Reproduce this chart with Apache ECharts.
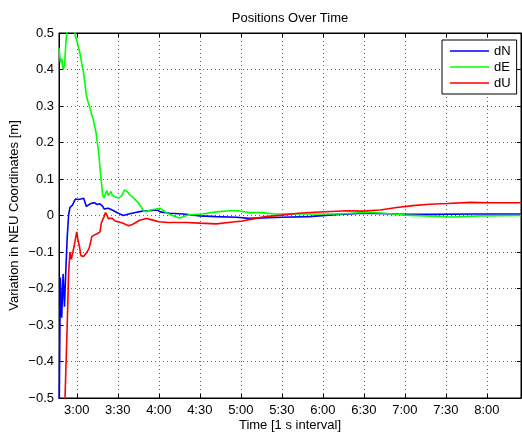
<!DOCTYPE html>
<html>
<head>
<meta charset="utf-8">
<script src="https://cdn.jsdelivr.net/npm/echarts@6/dist/echarts.min.js"></script>
<style>html,body{margin:0;padding:0;background:#fff}#c{width:522px;height:433px}</style>
</head>
<body>
<div id="c"></div>
<script>
// Time in seconds, values in metres
const dN_t = [167,168,169,170,171,172,173,174,175,176,177,178,179,181,183,185,186,187,189,191,193,195,197,199,200,203,206,210,214,218,223,228,233,239,241,248,258,270,282,297,306,330,350,372,390,415,440,470,505];
const dN_v = [-0.6,-0.17,-0.28,-0.16,-0.25,-0.15,-0.06,0.0,0.022,0.025,0.029,0.038,0.045,0.044,0.045,0.047,0.036,0.025,0.03,0.034,0.035,0.03,0.032,0.025,0.018,0.02,0.015,0.007,0.0,0.004,0.008,0.012,0.013,0.015,0.01,0.006,0.004,-0.001,-0.003,-0.005,-0.008,-0.005,-0.003,0.003,0.006,0.004,0.003,0.004,0.004];

const dE_t = [167,168,169,170,171,172,173,175,178,179,180,182,184,185,186,187,188,189,190,191,192,193,194,195,196,197,198,199,200,201,202,203,204,205,206,207,209,211,213,215,217,219,221,223,225,227,229,231,234,238,241,244,246,250,255,262,272,282,292,298,306,315,325,345,372,392,405,420,435,455,475,505];
const dE_v = [0.46,0.42,0.43,0.40,0.41,0.47,0.52,0.55,0.52,0.49,0.48,0.45,0.41,0.39,0.36,0.33,0.315,0.31,0.29,0.275,0.265,0.245,0.23,0.2,0.175,0.13,0.09,0.055,0.048,0.06,0.068,0.055,0.05,0.066,0.055,0.05,0.05,0.048,0.055,0.07,0.065,0.056,0.05,0.042,0.035,0.024,0.012,0.01,0.015,0.018,0.02,0.012,0.006,0.0,-0.007,0.002,0.004,0.01,0.013,0.013,0.008,0.008,0.004,0.004,0.004,0.009,0.006,0.001,-0.001,-0.004,-0.001,0.0];

const dU_t = [171,173,174,175,176,177,178,179,180,181,182,183,185,187,188,189,190,191,193,195,197,198,200,201,202,203,206,208,213,218,221,226,231,235,240,247,260,270,282,291,301,308,318,330,342,354,366,378,389,402,414,426,438,451,468,482,505];
const dU_v = [-0.55,-0.3,-0.16,-0.1,-0.12,-0.125,-0.085,-0.08,-0.045,-0.07,-0.085,-0.11,-0.112,-0.103,-0.106,-0.09,-0.075,-0.058,-0.053,-0.05,-0.045,-0.02,-0.003,0.008,0.002,-0.008,-0.008,-0.015,-0.02,-0.028,-0.024,-0.013,-0.008,-0.012,-0.017,-0.019,-0.019,-0.021,-0.023,-0.019,-0.015,-0.01,-0.003,0.001,0.006,0.009,0.011,0.013,0.012,0.015,0.022,0.027,0.031,0.033,0.036,0.035,0.035];

const xTicks = [180,210,240,270,300,330,360,390,420,450,480];
const seriesNames = ['dN','dE','dU'];
const seriesColors = ['#0000ff','#00ff00','#ff0000'];
const titleText = 'Positions Over Time';
const xName = 'Time [1 s interval]';
const yName = 'Variation in NEU Coordinates [m]';

const FONT = 'Liberation Sans, Arial, Helvetica, sans-serif';
function pairs(t, v){ return t.map((x,i)=>[x, v[i]]); }
function fmtTime(v){ const m=Math.floor(v/60), s=Math.round(v-m*60); return m+':'+(s<10?'0':'')+s; }
function fmtY(v){ const r=Math.round(v*10)/10; if (r===0) return '0'; const s=Math.abs(r).toFixed(1); return (r<0?'\u2212':'')+s; }

const XMIN=167, XMAX=505;
const gridLine = {show:true, lineStyle:{color:'#666', type:[1,3], width:1}};
const tick = {show:true, inside:true, length:4, lineStyle:{color:'#000'}};
const chart = echarts.init(document.getElementById('c'), null, {renderer:'canvas'});
const data = [pairs(dN_t,dN_v), pairs(dE_t,dE_v), pairs(dU_t,dU_v)];
chart.setOption({
  animation:false,
  backgroundColor:'#fff',
  title:{text:titleText, left:290, top:12, padding:0, textAlign:'center',
    textStyle:{fontFamily:FONT, fontSize:13, fontWeight:'normal', color:'#000'}},
  grid:{left:59, right:1, top:33, bottom:35, show:true, borderColor:'#000', borderWidth:1, backgroundColor:'#fff',
    containLabel:false, outerBoundsMode:'none'},
  legend:{show:true, orient:'vertical', left:442, top:40, align:'left',
    padding:[4,6,4,8], itemGap:2, itemWidth:39, itemHeight:1.6, icon:'rect',
    backgroundColor:'#fff', borderColor:'#000', borderWidth:1,
    textStyle:{fontFamily:FONT, fontSize:13, color:'#000', lineHeight:14},
    data:seriesNames},
  xAxis:[
    {type:'value', min:XMIN, max:XMAX, position:'bottom',
     name:xName, nameLocation:'middle', nameGap:20, nameMoveOverlap:false,
     nameTextStyle:{fontFamily:FONT, fontSize:13, color:'#000', lineHeight:14},
     axisLine:{show:true, onZero:false, lineStyle:{color:'#000', width:1}},
     axisTick:Object.assign({customValues:xTicks}, tick),
     axisLabel:{customValues:xTicks, formatter:fmtTime, margin:6, fontFamily:FONT, fontSize:13, color:'#000'},
     splitLine:gridLine},
    {type:'value', min:XMIN, max:XMAX, position:'top',
     axisLine:{show:true, onZero:false, lineStyle:{color:'#000'}},
     axisTick:Object.assign({customValues:xTicks}, tick),
     axisLabel:{show:false, customValues:xTicks}, splitLine:{show:false}}
  ],
  yAxis:[
    {type:'value', min:-0.5, max:0.5, interval:0.1, position:'left',
     name:yName, nameLocation:'middle', nameGap:38, nameMoveOverlap:false,
     nameTextStyle:{fontFamily:FONT, fontSize:13, color:'#000'},
     axisLine:{show:true, onZero:false, lineStyle:{color:'#000', width:1}},
     axisTick:tick,
     axisLabel:{formatter:fmtY, margin:5, fontFamily:FONT, fontSize:13, color:'#000'},
     splitLine:gridLine},
    {type:'value', min:-0.5, max:0.5, interval:0.1, position:'right',
     axisLine:{show:true, onZero:false, lineStyle:{color:'#000'}},
     axisTick:tick, axisLabel:{show:false}, splitLine:{show:false}}
  ],
  series: seriesNames.map((n,i)=>({
    name:n, type:'line', data:data[i], showSymbol:false, symbol:'none',
    xAxisIndex:0, yAxisIndex:0, clip:true,
    lineStyle:{color:seriesColors[i], width:1.6}, itemStyle:{color:seriesColors[i]}
  }))
});
</script>
</body>
</html>
